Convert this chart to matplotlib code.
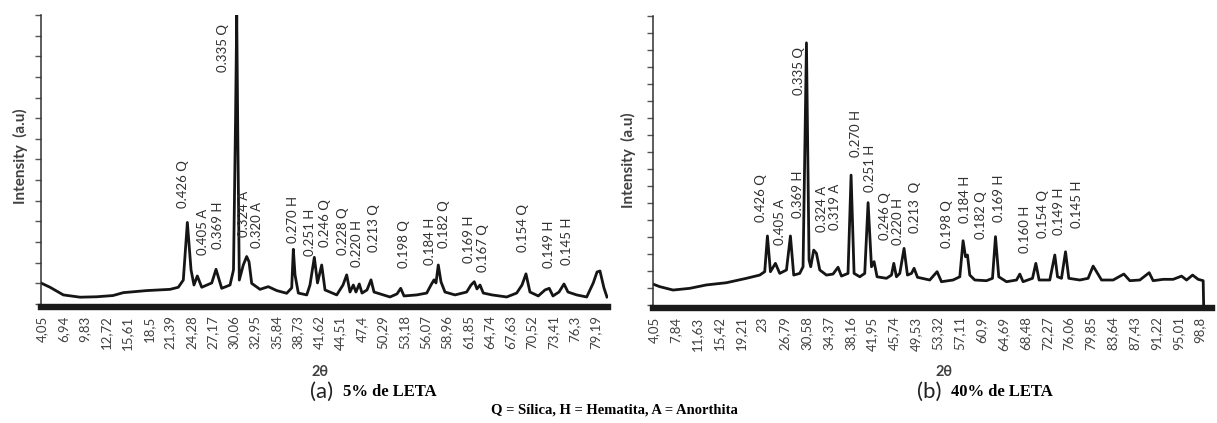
import matplotlib
matplotlib.use("Agg")
import matplotlib.pyplot as plt
import numpy as np

plt.rcParams['font.family'] = ['Lato', 'DejaVu Sans']

# ---------------- DADOS ----------------
# (a) 5% de LETA : 2theta (graus) e intensidade (u.a.)
theta_a = [4.01, 5.14, 6.94, 9.21, 11.47, 13.68, 15.08, 18.26, 21.42, 22.54,
           23.22, 23.77, 24.27, 24.67, 25.12, 25.72, 27.08, 27.66, 28.43, 29.56,
           30.03, 30.31, 30.47, 30.62, 30.82, 31.36, 31.82, 32.14, 32.50, 33.63,
           34.75, 35.90, 37.25, 37.93, 38.15, 38.38, 38.83, 39.97, 40.41, 41.00,
           41.43, 42.00, 42.45, 44.04, 44.89, 45.39, 45.84, 46.29, 46.65, 47.10,
           47.47, 48.15, 48.69, 49.10, 50.36, 51.27, 52.22, 52.72, 53.17, 54.89,
           56.25, 56.83, 57.24, 57.51, 57.82, 58.19, 58.73, 60.09, 61.67, 62.26,
           62.70, 63.07, 63.48, 63.93, 65.11, 67.10, 68.46, 69.18, 69.72, 70.26,
           71.39, 72.30, 72.88, 73.38, 74.20, 74.88, 75.42, 76.60, 77.96, 78.85,
           79.36, 79.76, 80.30, 80.71]
int_a = [100, 81, 44, 33, 35, 41, 55, 65, 71, 81,
         116, 395, 165, 92, 136, 81, 102, 168, 76, 92,
         165, 900, 1400, 800, 116, 189, 230, 204, 100, 71,
         84, 65, 52, 78, 265, 141, 53, 44, 92, 226,
         102, 189, 68, 44, 92, 141, 58, 92, 58, 97,
         53, 68, 117, 58, 44, 34, 49, 76, 39, 44,
         53, 92, 117, 102, 189, 107, 58, 44, 58, 92,
         108, 73, 92, 53, 44, 34, 53, 92, 146, 58,
         39, 68, 76, 39, 58, 97, 58, 44, 34, 102,
         155, 160, 78, 34]

# (b) 40% de LETA
theta_b = [3.93, 5.09, 7.40, 10.30, 13.19, 16.66, 20.14, 22.44, 23.31, 23.78,
           24.30, 25.17, 25.91, 27.08, 27.77, 28.34, 29.38, 29.96, 30.55, 31.00,
           31.29, 31.81, 32.28, 32.86, 34.02, 35.16, 36.03, 36.62, 37.76, 38.29,
           38.81, 39.80, 40.66, 41.24, 41.83, 42.28, 42.80, 44.43, 45.30, 45.70,
           46.16, 46.74, 47.48, 48.07, 48.77, 49.22, 49.81, 51.94, 53.21, 53.97,
           55.98, 57.15, 57.72, 58.14, 58.48, 58.88, 59.75, 61.78, 62.82, 63.34,
           63.91, 65.25, 66.99, 67.56, 68.13, 69.76, 70.34, 70.91, 72.76, 73.63,
           74.10, 74.79, 75.49, 76.06, 77.97, 79.41, 80.28, 80.87, 81.74, 83.75,
           85.61, 86.65, 88.38, 90.00, 90.69, 92.43, 94.16, 95.62, 96.49, 97.53,
           98.50, 99.37, 99.45]
int_b = [123, 108, 88, 98, 118, 131, 157, 176, 196, 406,
         196, 245, 186, 206, 406, 176, 186, 225, 1542, 265,
         225, 323, 304, 206, 176, 182, 222, 170, 186, 764,
         186, 166, 186, 602, 225, 255, 166, 157, 176, 245,
         166, 186, 333, 176, 186, 216, 163, 147, 196, 137,
         147, 166, 378, 284, 294, 176, 147, 143, 157, 402,
         166, 137, 147, 182, 137, 157, 245, 147, 147, 294,
         166, 157, 313, 157, 147, 157, 229, 196, 147, 147,
         182, 143, 147, 190, 143, 151, 151, 170, 147, 176,
         151, 143, 0]

# rótulos dos picos (d em nm + fase)
picos_a = ['0.426 Q', '0.405 A', '0.369 H', '0.335 Q', '0.324 A', '0.320 A',
           '0.270 H', '0.251 H', '0.246 Q', '0.228 Q', '0.220 H', '0.213 Q',
           '0.198 Q', '0.184 H', '0.182 Q', '0.169 H', '0.167 Q', '0.154 Q',
           '0.149 H', '0.145 H']
picos_b = ['0.426 Q', '0.405 A', '0.369 H', '0.335 Q', '0.324 A', '0.319 A',
           '0.270 H', '0.251 H', '0.246 Q', '0.220 H', '0.213  Q', '0.198 Q',
           '0.184 H', '0.182 Q', '0.169 H', '0.160 H', '0.154 Q', '0.149 H',
           '0.145 H']

# posição dos rótulos (x em 2theta, y da base do texto)
pos_a_x = [23.14, 25.85, 27.97, 28.65, 31.50, 33.18, 38.15, 40.42, 42.45, 44.94,
           46.75, 49.10, 53.17, 56.70, 58.60, 61.99, 63.85, 69.27, 72.88, 75.24]
pos_a_y = [466, 238, 267, 1126, 325, 272, 296, 233, 277, 238,
           180, 252, 175, 189, 272, 199, 155, 252, 175, 189]
pos_b_x = [22.62, 25.91, 29.09, 29.26, 33.32, 35.46, 39.10, 41.65, 44.13, 46.44,
           49.34, 55.01, 58.01, 60.91, 63.97, 68.43, 71.50, 74.38, 77.40]
pos_b_y = [490, 353, 510, 1235, 431, 441, 872, 666, 382, 353,
           422, 333, 480, 386, 490, 304, 392, 412, 451]

# rótulos do eixo x (categorias do Excel)
ticks_a = [4.05, 6.94, 9.83, 12.72, 15.61, 18.5, 21.39, 24.28, 27.17, 30.06,
           32.95, 35.84, 38.73, 41.62, 44.51, 47.4, 50.29, 53.18, 56.07, 58.96,
           61.85, 64.74, 67.63, 70.52, 73.41, 76.3, 79.19]
ticks_b = [4.05, 7.84, 11.63, 15.42, 19.21, 23, 26.79, 30.58, 34.37, 38.16,
           41.95, 45.74, 49.53, 53.32, 57.11, 60.9, 64.69, 68.48, 72.27, 76.06,
           79.85, 83.64, 87.43, 91.22, 95.01, 98.8]

W, H = 1217, 423
fig = plt.figure(figsize=(W / 100, H / 100), dpi=100)


def painel(rect, x, y, ymax, xlim, ticks, rot, pos_x, pos_y):
    ax = fig.add_axes(rect)
    ax.plot(x, y, color='#151515', lw=2.0, solid_joinstyle='round')
    ax.set_xlim(*xlim)
    ax.set_ylim(0, ymax)
    ax.set_yticks(np.arange(0, ymax + 1, 100))
    ax.set_yticklabels([])
    ax.set_xticks(ticks)
    ax.set_xticklabels([str(t).replace('.', ',') for t in ticks])
    ax.tick_params(axis='x', length=0, pad=6, labelrotation=90, labelsize=9.5,
                   labelcolor='#404040')
    ax.tick_params(axis='y', length=4, width=1, color='#555555', direction='out')
    for s in ['top', 'right']:
        ax.spines[s].set_visible(False)
    ax.spines['left'].set_color('#303030')
    ax.spines['left'].set_linewidth(1.1)
    ax.spines['bottom'].set_position(('outward', 2.2))
    ax.spines['bottom'].set_linewidth(4.6)
    ax.spines['bottom'].set_color('#1a1a1a')
    for txt, px, py in zip(rot, pos_x, pos_y):
        ax.text(px, py, txt, rotation=90, ha='center', va='bottom',
                fontsize=9.5, color='#303030')
    return ax


painel([41 / W, 1 - 304 / H, (608 - 41) / W, (304 - 15) / H],
       theta_a, int_a, 1400, (3.91, 80.85), ticks_a, picos_a, pos_a_x, pos_a_y)
painel([653 / W, 1 - 305 / H, (1212 - 653) / W, (305 - 16) / H],
       theta_b, int_b, 1700, (3.93, 100.9), ticks_b, picos_b, pos_b_x, pos_b_y)

# textos da figura
for xc, yc in [(20, 156), (628, 160)]:
    fig.text(xc / W, 1 - yc / H, 'Intensity  (a.u)', rotation=90, ha='center',
             va='center', fontsize=11, fontweight='bold', color='#404040')
for xc in [320, 944]:
    fig.text(xc / W, 1 - 372 / H, '2θ', ha='center', va='center', fontsize=10.5,
             fontweight='bold', color='#404040')

serif = ['Liberation Serif', 'DejaVu Serif']
fig.text(333 / W, 1 - 392 / H, '(a)', ha='right', va='center', fontsize=16,
         color='#222222')
fig.text(343 / W, 1 - 392 / H, '5% de LETA', ha='left', va='center', fontsize=12,
         fontweight='bold', family=serif)
fig.text(941 / W, 1 - 392 / H, '(b)', ha='right', va='center', fontsize=16,
         color='#222222')
fig.text(951 / W, 1 - 392 / H, '40% de LETA', ha='left', va='center', fontsize=12,
         fontweight='bold', family=serif)
fig.text(614 / W, 1 - 410 / H, 'Q = Sílica, H = Hematita, A = Anorthita',
         ha='center', va='center', fontsize=10.5, fontweight='bold', family=serif)

fig.savefig('out.png', dpi=100)
